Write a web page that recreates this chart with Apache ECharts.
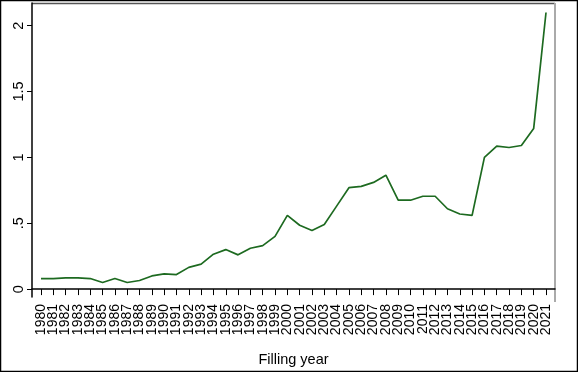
<!DOCTYPE html>
<html>
<head>
<meta charset="utf-8">
<script src="https://cdn.jsdelivr.net/npm/echarts@6/dist/echarts.min.js"></script>
<style>html,body{margin:0;padding:0;background:#fff;}#c{width:578px;height:372px;}</style>
</head>
<body>
<div id="c"></div>
<script>
var years = [1980,1981,1982,1983,1984,1985,1986,1987,1988,1989,1990,1991,1992,1993,1994,1995,1996,1997,1998,1999,2000,2001,2002,2003,2004,2005,2006,2007,2008,2009,2010,2011,2012,2013,2014,2015,2016,2017,2018,2019,2020,2021];
var values = [0.08,0.08,0.085,0.085,0.08,0.05,0.08,0.05,0.065,0.10,0.115,0.11,0.165,0.19,0.265,0.30,0.26,0.31,0.33,0.40,0.56,0.485,0.445,0.49,0.63,0.77,0.78,0.81,0.865,0.675,0.675,0.705,0.705,0.61,0.57,0.56,1.0,1.085,1.075,1.09,1.22,2.10];
var yTicks = [0,0.5,1,1.5,2];
var yTickLabels = ['0','.5','1','1.5','2'];
var xTitle = 'Filling year';
var xMin = 1979.27, xMax = 2021.73;

var chart = echarts.init(document.getElementById('c'), null, {renderer:'canvas'});
var pts = years.map(function(y,i){return [y, values[i]];});
var labelVals = [xMin].concat(years).concat([xMax]);
chart.setOption({
  animation:false,
  backgroundColor:'#fff',
  grid:{left:32, top:3, right:23, bottom:70, containLabel:false, show:false},
  xAxis:{
    type:'value', min:xMin, max:xMax,
    name:xTitle, nameLocation:'middle', nameGap:55,
    nameTextStyle:{fontFamily:'Liberation Sans, Arial', fontSize:14.5, color:'#000'},
    axisLine:{show:true, lineStyle:{color:'#000', width:1.5}},
    axisTick:{show:true, length:6, lineStyle:{color:'#000'}, customValues:years},
    axisLabel:{rotate:90, margin:7, fontFamily:'Liberation Sans, Arial', fontSize:14, color:'#000', customValues:labelVals,
      hideOverlap:false, formatter:function(v){return years.indexOf(v)>=0 ? String(v) : '';}},
    splitLine:{show:false}
  },
  yAxis:{
    type:'value', min:-0.06, max:2.172,
    axisLine:{show:true, lineStyle:{color:'#000', width:1.5}},
    axisTick:{show:true, length:5, lineStyle:{color:'#000'}, customValues:yTicks},
    axisLabel:{rotate:90, margin:6, fontFamily:'Liberation Sans, Arial', fontSize:14.5, color:'#000', customValues:yTicks,
      showMinLabel:true, showMaxLabel:true,
      formatter:function(v){var i=yTicks.indexOf(v);return i>=0?yTickLabels[i]:'';}},
    splitLine:{show:false}
  },
  series:[{
    type:'line', data:pts, showSymbol:false, symbol:'none',
    lineStyle:{color:'#1d6a20', width:1.7}
  }],
  graphic:[
    {type:'rect', shape:{x:0.5,y:0.5,width:577,height:371}, style:{fill:null, stroke:'#000', lineWidth:1.5}, silent:true},
    {type:'line', shape:{x1:32,y1:3.5,x2:555,y2:3.5}, style:{stroke:'#555', lineWidth:1.5}, silent:true},
    {type:'line', shape:{x1:555,y1:3,x2:555,y2:302}, style:{stroke:'#aaa', lineWidth:2}, silent:true}
  ]
});
</script>
</body>
</html>
